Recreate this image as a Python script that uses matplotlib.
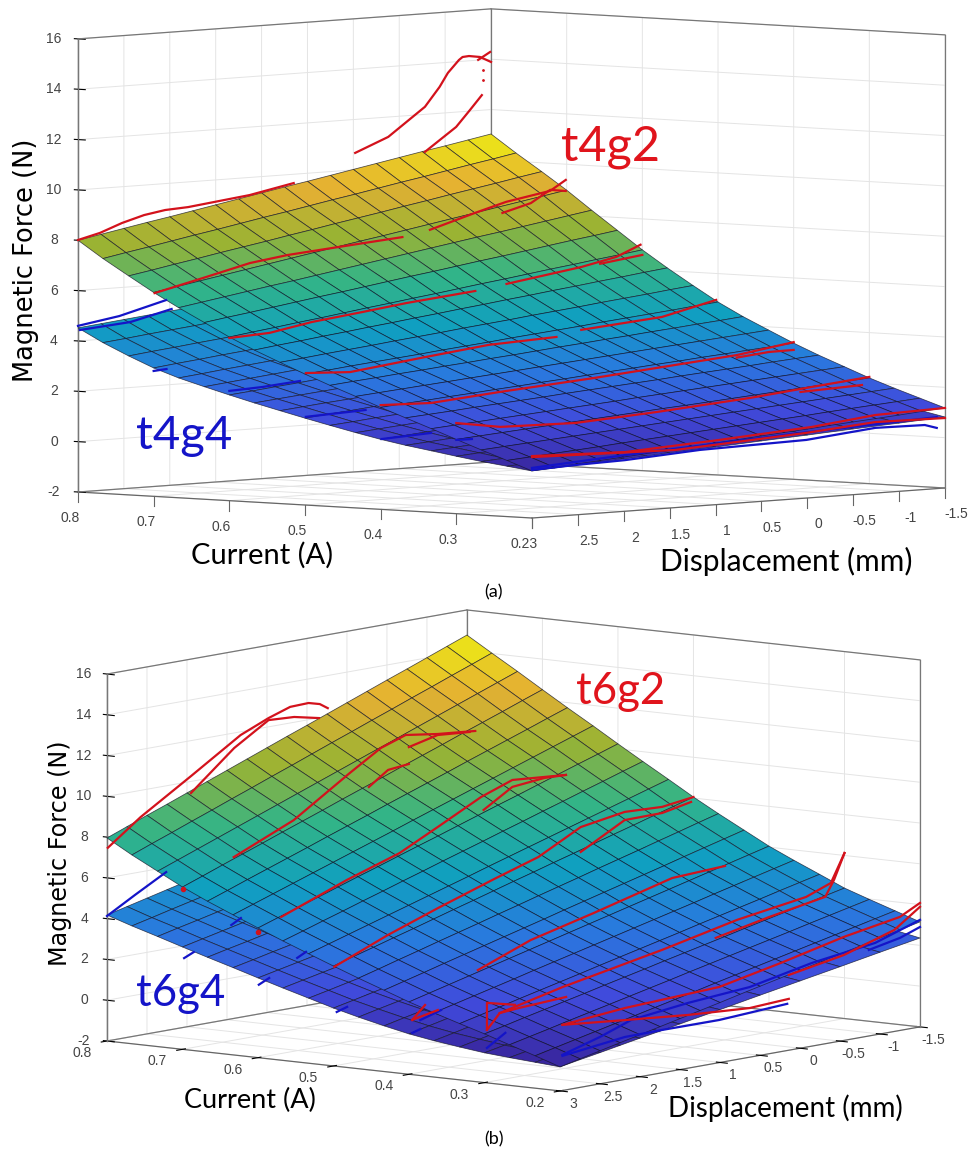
import numpy as np
import matplotlib
matplotlib.use('Agg')
from matplotlib import pyplot as plt
from matplotlib.colors import LinearSegmentedColormap
from mpl_toolkits.mplot3d import proj3d

W, H = 976, 1150
NARROW = ['Liberation Sans Narrow', 'Liberation Sans']
LABEL = ['Lato', 'DejaVu Sans']

# fitted surfaces (rows = current, columns = displacement)
current = [0.8, 0.767, 0.733, 0.7, 0.667, 0.633, 0.6, 0.567, 0.533, 0.5, 0.467, 0.433, 0.4, 0.367, 0.333, 0.3, 0.267, 0.233, 0.2]
disp_fine = [3, 2.75, 2.5, 2.25, 2, 1.75, 1.5, 1.25, 1, 0.75, 0.5, 0.25, 0, -0.25, -0.5, -0.75, -1, -1.25, -1.5]
disp_low = [3, 2.75, 2.5, 2.25, 2, 1.75, 1.5, 1, 0.5, 0, -0.5, -1, -1.5]

t4g2 = [
    [8.00, 8.17, 8.34, 8.51, 8.67, 8.84, 9.01, 9.18, 9.35, 9.52, 9.68, 9.85, 10.02, 10.19, 10.36, 10.53, 10.69, 10.86, 11.03],
    [7.33, 7.50, 7.66, 7.83, 8.00, 8.16, 8.33, 8.50, 8.66, 8.83, 9.00, 9.16, 9.33, 9.50, 9.66, 9.83, 10.00, 10.16, 10.33],
    [6.70, 6.86, 7.03, 7.19, 7.36, 7.52, 7.68, 7.85, 8.01, 8.18, 8.34, 8.50, 8.67, 8.83, 9.00, 9.16, 9.32, 9.49, 9.65],
    [6.10, 6.26, 6.42, 6.58, 6.74, 6.90, 7.06, 7.22, 7.38, 7.54, 7.69, 7.85, 8.01, 8.17, 8.33, 8.49, 8.65, 8.81, 8.97],
    [5.55, 5.70, 5.85, 6.00, 6.15, 6.29, 6.44, 6.59, 6.74, 6.89, 7.04, 7.19, 7.34, 7.49, 7.63, 7.78, 7.93, 8.08, 8.23],
    [5.02, 5.16, 5.29, 5.43, 5.57, 5.71, 5.84, 5.98, 6.12, 6.26, 6.39, 6.53, 6.67, 6.80, 6.94, 7.08, 7.22, 7.35, 7.49],
    [4.50, 4.63, 4.75, 4.88, 5.00, 5.13, 5.26, 5.38, 5.51, 5.63, 5.76, 5.89, 6.01, 6.14, 6.27, 6.39, 6.52, 6.64, 6.77],
    [4.04, 4.16, 4.27, 4.39, 4.50, 4.62, 4.73, 4.85, 4.96, 5.08, 5.19, 5.31, 5.42, 5.54, 5.65, 5.77, 5.88, 6.00, 6.11],
    [3.61, 3.71, 3.82, 3.92, 4.02, 4.13, 4.23, 4.33, 4.44, 4.54, 4.64, 4.75, 4.85, 4.95, 5.06, 5.16, 5.26, 5.37, 5.47],
    [3.20, 3.29, 3.39, 3.48, 3.57, 3.66, 3.76, 3.85, 3.94, 4.04, 4.13, 4.22, 4.31, 4.41, 4.50, 4.59, 4.68, 4.78, 4.87],
    [2.81, 2.90, 2.98, 3.07, 3.15, 3.24, 3.32, 3.41, 3.49, 3.58, 3.67, 3.75, 3.84, 3.92, 4.01, 4.09, 4.18, 4.26, 4.35],
    [2.43, 2.51, 2.59, 2.67, 2.75, 2.83, 2.91, 2.99, 3.07, 3.15, 3.23, 3.31, 3.39, 3.47, 3.55, 3.63, 3.71, 3.79, 3.87],
    [2.05, 2.13, 2.20, 2.28, 2.35, 2.43, 2.50, 2.58, 2.65, 2.73, 2.81, 2.88, 2.96, 3.03, 3.11, 3.18, 3.26, 3.33, 3.41],
    [1.69, 1.76, 1.83, 1.91, 1.98, 2.05, 2.12, 2.20, 2.27, 2.34, 2.41, 2.48, 2.56, 2.63, 2.70, 2.77, 2.85, 2.92, 2.99],
    [1.32, 1.39, 1.46, 1.53, 1.60, 1.67, 1.74, 1.81, 1.88, 1.96, 2.03, 2.10, 2.17, 2.24, 2.31, 2.38, 2.45, 2.52, 2.59],
    [0.95, 1.02, 1.09, 1.16, 1.23, 1.30, 1.37, 1.44, 1.51, 1.58, 1.64, 1.71, 1.78, 1.85, 1.92, 1.99, 2.06, 2.13, 2.20],
    [0.59, 0.66, 0.73, 0.80, 0.87, 0.94, 1.01, 1.08, 1.15, 1.22, 1.29, 1.36, 1.43, 1.50, 1.57, 1.64, 1.71, 1.78, 1.85],
    [0.23, 0.30, 0.37, 0.44, 0.51, 0.59, 0.66, 0.73, 0.80, 0.87, 0.94, 1.01, 1.08, 1.15, 1.23, 1.30, 1.37, 1.44, 1.51],
    [-0.13, -0.06, 0.02, 0.09, 0.16, 0.23, 0.31, 0.38, 0.45, 0.52, 0.60, 0.67, 0.74, 0.82, 0.89, 0.96, 1.03, 1.11, 1.18],
]
t4g4 = [
    [4.52, 4.62, 4.72, 4.82, 4.92, 5.01, 5.11, 5.31, 5.51, 5.71, 5.90, 6.10, 6.30],
    [3.99, 4.09, 4.20, 4.30, 4.40, 4.51, 4.61, 4.82, 5.02, 5.23, 5.44, 5.64, 5.85],
    [3.52, 3.63, 3.73, 3.84, 3.94, 4.05, 4.15, 4.36, 4.58, 4.79, 5.00, 5.21, 5.42],
    [3.10, 3.21, 3.31, 3.42, 3.52, 3.63, 3.73, 3.94, 4.16, 4.37, 4.58, 4.79, 5.00],
    [2.76, 2.86, 2.97, 3.07, 3.17, 3.28, 3.38, 3.59, 3.79, 4.00, 4.21, 4.41, 4.62],
    [2.47, 2.57, 2.67, 2.77, 2.87, 2.96, 3.06, 3.26, 3.46, 3.66, 3.85, 4.05, 4.25],
    [2.20, 2.29, 2.39, 2.48, 2.58, 2.67, 2.77, 2.96, 3.14, 3.33, 3.52, 3.71, 3.90],
    [1.94, 2.03, 2.12, 2.21, 2.30, 2.40, 2.49, 2.67, 2.85, 3.03, 3.22, 3.40, 3.58],
    [1.69, 1.78, 1.87, 1.95, 2.04, 2.13, 2.22, 2.40, 2.57, 2.75, 2.93, 3.10, 3.28],
    [1.45, 1.54, 1.62, 1.71, 1.79, 1.88, 1.97, 2.14, 2.31, 2.48, 2.66, 2.83, 3.00],
    [1.22, 1.30, 1.39, 1.47, 1.55, 1.64, 1.72, 1.89, 2.05, 2.22, 2.39, 2.55, 2.72],
    [0.99, 1.07, 1.15, 1.23, 1.31, 1.40, 1.48, 1.64, 1.80, 1.96, 2.13, 2.29, 2.45],
    [0.78, 0.86, 0.94, 1.02, 1.10, 1.17, 1.25, 1.41, 1.57, 1.73, 1.88, 2.04, 2.20],
    [0.60, 0.67, 0.75, 0.82, 0.90, 0.97, 1.04, 1.19, 1.34, 1.49, 1.63, 1.78, 1.93],
    [0.44, 0.51, 0.58, 0.65, 0.72, 0.78, 0.85, 0.99, 1.13, 1.27, 1.40, 1.54, 1.68],
    [0.28, 0.35, 0.41, 0.48, 0.54, 0.61, 0.67, 0.80, 0.93, 1.06, 1.19, 1.32, 1.45],
    [0.13, 0.19, 0.25, 0.32, 0.38, 0.44, 0.50, 0.62, 0.75, 0.87, 0.99, 1.12, 1.24],
    [0.00, 0.06, 0.11, 0.17, 0.23, 0.29, 0.34, 0.46, 0.57, 0.69, 0.80, 0.92, 1.03],
    [-0.13, -0.08, -0.02, 0.03, 0.08, 0.13, 0.19, 0.29, 0.40, 0.50, 0.61, 0.71, 0.82],
]
t6g2 = [
    [7.96, 8.34, 8.72, 9.09, 9.47, 9.85, 10.23, 10.61, 10.99, 11.37, 11.74, 12.12, 12.50, 12.88, 13.26, 13.63, 14.01, 14.39, 14.77],
    [7.26, 7.64, 8.01, 8.39, 8.76, 9.14, 9.51, 9.89, 10.26, 10.64, 11.02, 11.39, 11.77, 12.14, 12.52, 12.89, 13.27, 13.64, 14.02],
    [6.60, 6.97, 7.34, 7.71, 8.08, 8.45, 8.82, 9.19, 9.56, 9.93, 10.30, 10.67, 11.04, 11.41, 11.78, 12.15, 12.52, 12.89, 13.26],
    [5.96, 6.32, 6.69, 7.05, 7.41, 7.78, 8.14, 8.50, 8.87, 9.23, 9.59, 9.96, 10.32, 10.68, 11.05, 11.41, 11.77, 12.14, 12.50],
    [5.40, 5.75, 6.11, 6.46, 6.81, 7.16, 7.52, 7.87, 8.22, 8.58, 8.93, 9.28, 9.63, 9.99, 10.34, 10.69, 11.04, 11.40, 11.75],
    [4.87, 5.21, 5.55, 5.89, 6.23, 6.57, 6.91, 7.25, 7.59, 7.94, 8.28, 8.62, 8.96, 9.30, 9.64, 9.98, 10.32, 10.66, 11.00],
    [4.36, 4.69, 5.01, 5.34, 5.67, 6.00, 6.32, 6.65, 6.98, 7.30, 7.63, 7.96, 8.29, 8.61, 8.94, 9.27, 9.60, 9.92, 10.25],
    [3.86, 4.17, 4.49, 4.80, 5.12, 5.43, 5.75, 6.06, 6.38, 6.69, 7.00, 7.32, 7.63, 7.95, 8.26, 8.58, 8.89, 9.21, 9.52],
    [3.37, 3.67, 3.97, 4.27, 4.57, 4.87, 5.17, 5.47, 5.77, 6.08, 6.38, 6.68, 6.98, 7.28, 7.58, 7.88, 8.18, 8.48, 8.78],
    [2.90, 3.19, 3.47, 3.76, 4.04, 4.33, 4.62, 4.90, 5.19, 5.48, 5.76, 6.05, 6.33, 6.62, 6.91, 7.19, 7.48, 7.76, 8.05],
    [2.44, 2.71, 2.99, 3.26, 3.54, 3.81, 4.08, 4.36, 4.63, 4.91, 5.18, 5.45, 5.73, 6.00, 6.27, 6.55, 6.82, 7.10, 7.37],
    [1.99, 2.25, 2.51, 2.78, 3.04, 3.30, 3.56, 3.82, 4.08, 4.35, 4.61, 4.87, 5.13, 5.39, 5.65, 5.92, 6.18, 6.44, 6.70],
    [1.55, 1.80, 2.05, 2.30, 2.55, 2.80, 3.05, 3.30, 3.55, 3.80, 4.05, 4.30, 4.55, 4.80, 5.05, 5.30, 5.55, 5.80, 6.05],
    [1.15, 1.39, 1.63, 1.87, 2.11, 2.36, 2.60, 2.84, 3.08, 3.32, 3.56, 3.80, 4.04, 4.28, 4.53, 4.77, 5.01, 5.25, 5.49],
    [0.76, 0.99, 1.22, 1.46, 1.69, 1.92, 2.15, 2.39, 2.62, 2.85, 3.08, 3.31, 3.55, 3.78, 4.01, 4.24, 4.48, 4.71, 4.94],
    [0.39, 0.61, 0.84, 1.06, 1.28, 1.50, 1.73, 1.95, 2.17, 2.40, 2.62, 2.84, 3.06, 3.29, 3.51, 3.73, 3.95, 4.18, 4.40],
    [-0.01, 0.21, 0.43, 0.66, 0.88, 1.10, 1.32, 1.54, 1.76, 1.99, 2.21, 2.43, 2.65, 2.87, 3.09, 3.32, 3.54, 3.76, 3.98],
    [-0.41, -0.19, 0.03, 0.25, 0.47, 0.69, 0.91, 1.13, 1.35, 1.58, 1.80, 2.02, 2.24, 2.46, 2.68, 2.90, 3.12, 3.34, 3.56],
    [-0.82, -0.60, -0.38, -0.16, 0.06, 0.28, 0.50, 0.72, 0.94, 1.17, 1.39, 1.61, 1.83, 2.05, 2.27, 2.49, 2.71, 2.93, 3.15],
]
t6g4 = [
    [4.18, 4.42, 4.66, 4.90, 5.14, 5.38, 5.62, 6.10, 6.58, 7.06, 7.54, 8.02, 8.50],
    [3.78, 4.01, 4.25, 4.48, 4.71, 4.95, 5.18, 5.65, 6.11, 6.58, 7.05, 7.51, 7.98],
    [3.40, 3.63, 3.85, 4.08, 4.31, 4.53, 4.76, 5.21, 5.67, 6.12, 6.57, 7.03, 7.48],
    [3.02, 3.24, 3.46, 3.68, 3.90, 4.13, 4.35, 4.79, 5.23, 5.67, 6.11, 6.56, 7.00],
    [2.65, 2.87, 3.08, 3.30, 3.52, 3.73, 3.95, 4.38, 4.82, 5.25, 5.68, 6.12, 6.55],
    [2.28, 2.49, 2.71, 2.92, 3.13, 3.35, 3.56, 3.99, 4.41, 4.84, 5.27, 5.69, 6.12],
    [1.91, 2.12, 2.33, 2.54, 2.75, 2.96, 3.17, 3.59, 4.02, 4.44, 4.86, 5.28, 5.70],
    [1.55, 1.76, 1.97, 2.18, 2.39, 2.61, 2.82, 3.24, 3.66, 4.08, 4.51, 4.93, 5.35],
    [1.19, 1.40, 1.62, 1.83, 2.04, 2.25, 2.47, 2.89, 3.32, 3.74, 4.17, 4.59, 5.02],
    [0.84, 1.05, 1.27, 1.48, 1.70, 1.91, 2.13, 2.56, 2.98, 3.41, 3.84, 4.27, 4.70],
    [0.53, 0.75, 0.96, 1.18, 1.39, 1.61, 1.83, 2.26, 2.69, 3.12, 3.56, 3.99, 4.42],
    [0.24, 0.46, 0.67, 0.89, 1.11, 1.33, 1.54, 1.98, 2.41, 2.85, 3.28, 3.72, 4.15],
    [-0.02, 0.20, 0.42, 0.63, 0.85, 1.07, 1.29, 1.72, 2.16, 2.59, 3.03, 3.46, 3.90],
    [-0.22, -0.01, 0.21, 0.42, 0.63, 0.85, 1.06, 1.49, 1.91, 2.34, 2.77, 3.19, 3.62],
    [-0.39, -0.18, 0.03, 0.23, 0.44, 0.65, 0.86, 1.27, 1.69, 2.10, 2.52, 2.93, 3.35],
    [-0.54, -0.34, -0.14, 0.07, 0.27, 0.47, 0.67, 1.08, 1.48, 1.89, 2.29, 2.70, 3.10],
    [-0.64, -0.45, -0.25, -0.06, 0.14, 0.33, 0.52, 0.91, 1.30, 1.69, 2.07, 2.46, 2.85],
    [-0.73, -0.55, -0.36, -0.18, 0.01, 0.20, 0.38, 0.75, 1.12, 1.49, 1.86, 2.23, 2.60],
    [-0.82, -0.64, -0.47, -0.29, -0.11, 0.06, 0.24, 0.59, 0.95, 1.30, 1.65, 2.01, 2.36],
]

# measured traces: (current, displacement list, force list)
red_a = [
    (0.8, [3, 2.76, 2.52, 2.28, 2.05, 1.8, 1.13, 0.65], [8.01, 8.23, 8.56, 8.81, 8.95, 9.0, 9.3, 9.65]),
    (0.8, [-0.02, -0.38, -0.78, -0.94, -1.03, -1.15, -1.19, -1.26, -1.38, -1.5], [10.67, 11.21, 12.3, 13.05, 13.58, 14.06, 14.17, 14.19, 14.12, 13.89]),
    (0.8, [-1.36, -1.49], [14.01, 14.29]),
    (0.8, [-0.78, -1.12, -1.27, -1.4], [10.51, 11.41, 12.04, 12.6]),
    (0.7, [2.99, 2.43, 1.95, 1.54, 0.99, 0.29], [6.07, 6.56, 6.99, 7.2, 7.37, 7.58]),
    (0.7, [-0.01, -0.5, -0.84, -1.32, -1.49], [7.79, 8.33, 8.68, 8.99, 9.38]),
    (0.7, [-0.8, -1.11, -1.32, -1.49], [8.25, 8.56, 9.03, 8.94]),
    (0.6, [3, 2.56, 2.1, 1.55, 1.07, 0.32], [4.46, 4.55, 4.86, 5.11, 5.34, 5.62]),
    (0.6, [-0.02, -0.84, -1.22, -1.48], [5.81, 6.27, 6.57, 6.98]),
    (0.6, [-1.04, -1.5], [6.34, 6.57]),
    (0.5, [2.99, 2.51, 1.69, 1.0, 0.26], [3.24, 3.15, 3.53, 3.83, 3.95]),
    (0.5, [-0.01, -0.89, -1.48], [4.16, 4.44, 4.96]),
    (0.4, [3, 2.45, 1.7, 0.68, -0.35, -0.88, -1.5], [2.14, 2.08, 2.32, 2.6, 2.93, 3.1, 3.45]),
    (0.4, [-0.88, -1.23, -1.5], [3.0, 3.13, 3.14]),
    (0.3, [3, 2.52, 1.7, 0.82, -0.2, -0.88, -1.5], [1.6, 1.32, 1.26, 1.46, 1.75, 2.01, 2.24]),
    (0.3, [-0.75, -1.42], [1.84, 1.94]),
    (0.2, [3, 1.99, 0.96, -0.05, -0.74, -1.5], [0.46, 0.35, 0.56, 0.81, 1.1, 1.18]),
    (0.2, [3, 1.44, 0.01, -0.74, -1.5], [0.42, 0.29, 0.59, 0.82, 0.78]),
]
blue_a = [
    (0.8, [3, 2.55, 2.04], [4.6, 4.87, 5.37]),
    (0.8, [2.98, 2.43, 1.98], [4.43, 4.6, 5.0]),
    (0.7, [3, 2.86], [2.98, 3.02]),
    (0.6, [3, 2.64, 2.23], [2.36, 2.42, 2.55]),
    (0.5, [2.99, 2.34], [1.5, 1.6]),
    (0.4, [2.99, 2.45], [0.79, 0.89]),
    (0.3, [3, 2.83], [0.93, 0.92]),
    (0.2, [3, 2.53, 1.99, 1.17, 0.01, -0.74, -1.28, -1.41], [-0.09, -0.02, 0.03, 0.22, 0.31, 0.59, 0.56, 0.41]),
    (0.2, [3, 1.99, 0.08, -1.41], [-0.01, 0.23, 0.6, 0.84]),
]
red_b = [
    (0.8, [2.99, 2.58, 1.95, 1.33, 0.98, 0.71, 0.48, 0.34, 0.24], [7.47, 8.69, 10.26, 11.84, 12.43, 12.79, 12.82, 12.67, 12.4]),
    (0.8, [1.95, 1.41, 0.98, 0.66, 0.35], [9.43, 11.26, 12.33, 12.26, 11.99]),
    (0.7, [2.36, 1.61, 0.91, 0.52, 0.21, -0.19, -0.66], [6.98, 8.27, 10.09, 11.05, 11.47, 11.24, 11.06]),
    (0.7, [0.17, -0.19, -0.59], [10.85, 11.19, 11.06]),
    (0.7, [0.67, 0.43, 0.17], [9.24, 9.91, 10.02]),
    (0.6, [2.71, 1.89, 1.23, 0.75, 0.21, -0.18, -0.85], [4.7, 5.94, 6.8, 7.75, 8.84, 9.4, 9.18]),
    (0.6, [0.18, -0.18, -0.58, -0.85], [8.18, 9.06, 9.22, 9.18]),
    (0.5, [2.99, 2.32, 1.69, 0.99, 0.44, -0.09, -0.64, -1.11, -1.5], [2.86, 3.95, 4.84, 5.77, 6.46, 7.56, 7.92, 7.84, 8.05]),
    (0.5, [-0.09, -0.64, -1.11, -1.47], [6.34, 7.52, 7.54, 7.83]),
    (0.4, [2.14, 1.48, 0.69, -0.29, -0.95], [2.51, 3.52, 4.3, 5.33, 5.46]),
    (0.4, [2.96, 2.8], [0.64, 1.26]),
    (0.4, [2.96, 2.64], [0.64, 0.9]),
    (0.3, [2.97, 2.81, 2.02, 0.78, -0.16, -1.02, -1.33, -1.5], [0.56, 1.28, 2.01, 2.96, 3.78, 4.3, 4.77, 6.12]),
    (0.3, [0.11, -0.56, -1.26, -1.37, -1.5], [3.08, 3.64, 4.14, 4.9, 6.12]),
    (0.3, [2.97, 2.97, 2.62], [0.56, 1.89, 1.55]),
    (0.3, [1.98, 2.57, 2.81], [1.49, 1.36, 1.28]),
    (0.2, [2.97, 2.19, 1.01, 0.24, -0.55, -1.25, -1.5], [1.22, 1.5, 1.71, 2.35, 3.08, 3.57, 4.08]),
    (0.2, [2.97, 2.19, 1.4, 0.63, 0.14], [1.22, 0.91, 0.61, 0.41, 0.52]),
    (0.2, [0.14, -0.55, -1.18, -1.5], [1.69, 2.19, 2.98, 3.89]),
]
blue_b = [
    (0.8, [3, 2.65, 2.26], [4.13, 4.92, 5.77]),
    (0.7, [2.98, 2.86], [2.46, 2.67]),
    (0.7, [2.39, 2.27], [3.67, 3.93]),
    (0.6, [2.99, 2.86], [1.57, 1.81]),
    (0.6, [2.51, 2.4], [2.55, 2.77]),
    (0.5, [2.96, 2.83], [0.62, 0.78]),
    (0.4, [2.96, 2.86], [0.0, 0.12]),
    (0.4, [2.86, 2.6], [0.56, 0.87]),
    (0.3, [2.97, 2.74], [-0.32, 0.26]),
    (0.2, [2.97, 2.5, 2.11, 1.4, 0.63, -0.15, -0.94, -1.5], [-0.25, 0.3, 0.86, 1.2, 1.44, 2.08, 2.51, 3.25]),
    (0.2, [2.97, 2.19, 1.73, 1.01, 0.16], [-0.3, 0.08, 0.1, 0.09, 0.29]),
    (0.2, [-0.86, -1.25, -1.5], [2.22, 2.54, 2.9]),
]
red_dots_a = (0.8, [-1.41, -1.41], [13.2, 13.6])
red_dots_b = ([0.7, 0.6], [3, 3], [5.85, 4.18])

current_ticks = [0.8, 0.7, 0.6, 0.5, 0.4, 0.3, 0.2]
current_labels_a = ['0.8', '0.7', '0.6', '0.5', '0.4', '0.3', '0.23']
current_labels_b = ['0.8', '0.7', '0.6', '0.5', '0.4', '0.3', '0.2']
disp_ticks = [3, 2.5, 2, 1.5, 1, 0.5, 0, -0.5, -1, -1.5]
disp_labels_a = ['', '2.5', '2', '1.5', '1', '0.5', '0', '-0.5', '-1', '-1.5']
disp_labels_b = ['3', '2.5', '2', '1.5', '1', '0.5', '0', '-0.5', '-1', '-1.5']
force_ticks = [-2, 0, 2, 4, 6, 8, 10, 12, 14, 16]

# parula, a little darker because the dense mesh of the original dims it
parula = LinearSegmentedColormap.from_list('parula', [
    (0.218, 0.135, 0.594), (0.253, 0.291, 0.862), (0.161, 0.476, 0.871),
    (0.062, 0.625, 0.755), (0.195, 0.706, 0.533), (0.605, 0.701, 0.200),
    (0.897, 0.689, 0.198), (0.930, 0.935, 0.077)])

fig = plt.figure(figsize=(W / 100, H / 100), dpi=100, facecolor='white')


def pixel_of(ax, x, y, z):
    u, v, _ = proj3d.proj_transform(x, y, z, ax.get_proj())
    return ax.transData.transform((u, v))


def place(ax, left_px, right_px):
    # scale and shift the square axes so two floor corners land where they should
    size = 800.0
    ax.set_position([0, 0, size / W, size / H])
    ax.apply_aspect()
    p0 = pixel_of(ax, 0.8, 3, -2)
    p1 = pixel_of(ax, 0.2, -1.5, -2)
    size = size * (right_px[0] - left_px[0]) / (p1[0] - p0[0])
    ax.set_position([0, 0, size / W, size / H])
    ax.apply_aspect()
    p0 = pixel_of(ax, 0.8, 3, -2)
    ox = left_px[0] - p0[0]
    oy = (H - left_px[1]) - p0[1]
    ax.set_position([ox / W, oy / H, size / W, size / H])
    ax.apply_aspect()


def tick_text(ax, x, y, z, s, off):
    p = pixel_of(ax, x, y, z)
    fig.text((p[0] + off[0]) / W, (p[1] - off[1]) / H, s, fontsize=10, color='#444444', family=NARROW,
             ha='center', va='center')


def panel(elev, azim, box, left_px, right_px, upper, lower, clim, reds, blues,
          cur_labels, d_labels, off_x, off_y, off_z, drop_ticks):
    ax = fig.add_subplot(projection='3d', computed_zorder=False, proj_type='ortho')
    ax.set_facecolor('none')
    ax.view_init(elev=elev, azim=azim)
    ax.set_box_aspect(box)
    ax.set_xlim(0.2, 0.8)
    ax.set_ylim(-1.5, 3)
    ax.set_zlim(-2, 16)
    place(ax, left_px, right_px)

    ax.set_xticks(current_ticks)
    ax.set_xticklabels([''] * len(current_ticks))
    ax.set_yticks(disp_ticks)
    ax.set_yticklabels([''] * len(disp_ticks))
    ax.set_zticks(force_ticks)
    ax.set_zticklabels([''] * len(force_ticks))
    ax.zaxis._axinfo['juggled'] = (1, 2, 0)

    for axis in (ax.xaxis, ax.yaxis, ax.zaxis):
        axis.pane.set_facecolor('white')
        axis.pane.set_edgecolor('white')
        axis.line.set_color('#666666')
        axis.line.set_linewidth(0.9)
        axis._axinfo['grid'].update(color='#e4e4e4', linewidth=0.7)
        axis._axinfo['tick'].update(color='#666666')
    if drop_ticks:
        for axis in (ax.xaxis, ax.yaxis):
            axis._axinfo['tick'].update(inward_factor=0, outward_factor=0)
        for c in current_ticks:
            ax.plot([c, c], [3, 3], [-2, -2.4], color='#666666', lw=0.8, zorder=1)
        for d in disp_ticks:
            ax.plot([0.2, 0.2], [d, d], [-2, -2.4], color='#666666', lw=0.8, zorder=1)

    # box outline
    edges = [((0.8, 3, 16), (0.8, -1.5, 16)), ((0.8, -1.5, 16), (0.2, -1.5, 16)),
             ((0.8, 3, -2), (0.8, 3, 16)), ((0.8, -1.5, -2), (0.8, -1.5, 16)),
             ((0.2, -1.5, -2), (0.2, -1.5, 16)), ((0.8, 3, -2), (0.8, -1.5, -2)),
             ((0.8, -1.5, -2), (0.2, -1.5, -2))]
    for e0, e1 in edges:
        ax.plot([e0[0], e1[0]], [e0[1], e1[1]], [e0[2], e1[2]], color='#777777', lw=0.9, zorder=1)

    Dl, Il = np.meshgrid(disp_low, current)
    ax.plot_surface(Il, Dl, np.array(lower), cmap=parula, vmin=clim[0], vmax=clim[1],
                    rstride=1, cstride=1, shade=False, edgecolor=(0.08, 0.08, 0.15, 0.75),
                    linewidth=0.55, zorder=3)
    Du, Iu = np.meshgrid(disp_fine, current)
    ax.plot_surface(Iu, Du, np.array(upper), cmap=parula, vmin=clim[0], vmax=clim[1],
                    rstride=1, cstride=1, shade=False, edgecolor=(0.08, 0.08, 0.15, 0.75),
                    linewidth=0.55, zorder=5)
    for cur, d, f in blues:
        ax.plot([cur] * len(d), d, f, color='#1414c8', lw=1.6, zorder=6, solid_joinstyle='round')
    for cur, d, f in reds:
        ax.plot([cur] * len(d), d, f, color='#d3121c', lw=1.6, zorder=7, solid_joinstyle='round')

    for c, s in zip(current_ticks, cur_labels):
        tick_text(ax, c, 3, -2, s, off_x)
    for d, s in zip(disp_ticks, d_labels):
        tick_text(ax, 0.2, d, -2, s, off_y)
    for f in force_ticks:
        tick_text(ax, 0.8, 3, f, str(f), off_z)
    return ax


ax_a = panel(3.7, 131.6, (607, 622, 454), (78, 492), (945, 488), t4g2, t4g4, (-0.3, 11),
             red_a, blue_a, current_labels_a, disp_labels_a, (-8, 26), (11, 26.5), (-24, 0), True)
ax_a.plot([red_dots_a[0]] * 2, red_dots_a[1], red_dots_a[2], ls='', marker='.', ms=2,
          color='#d3121c', zorder=7)

ax_b = panel(8.05, 128.2, (576.5, 582, 370.6), (107, 1041), (920, 1027), t6g2, t6g4, (-0.9, 14.8),
             red_b, blue_b, current_labels_b, disp_labels_b, (-25, 12), (13, 13), (-23, 0), False)
ax_b.plot(red_dots_b[0], red_dots_b[1], red_dots_b[2], ls='', marker='o', ms=3,
          color='#d3121c', zorder=7)


def label(x, y, s, size, color='black', family=LABEL, rotation=0):
    fig.text(x / W, 1 - y / H, s, fontsize=size, color=color, family=family, rotation=rotation,
             ha='center', va='center')


label(26, 260, 'Magnetic Force (N)', 18.5, family=['DejaVu Sans'], rotation=90)
label(262, 555, 'Current (A)', 21)
label(786, 561, 'Displacement (mm)', 21.5)
label(611, 147, 't4g2', 35, color='#e0141c')
label(184, 436, 't4g4', 34, color='#1414c8')
label(493, 592, '(a)', 13)

label(60, 853, 'Magnetic Force (N)', 17.2, family=['DejaVu Sans'], rotation=90)
label(250, 1100, 'Current (A)', 19.5)
label(785, 1108, 'Displacement (mm)', 20)
label(621, 692, 't6g2', 31.5, color='#e0141c')
label(181, 993, 't6g4', 31.5, color='#1414c8')
label(494, 1139, '(b)', 13)

fig.savefig('out.png', dpi=100, facecolor='white')
